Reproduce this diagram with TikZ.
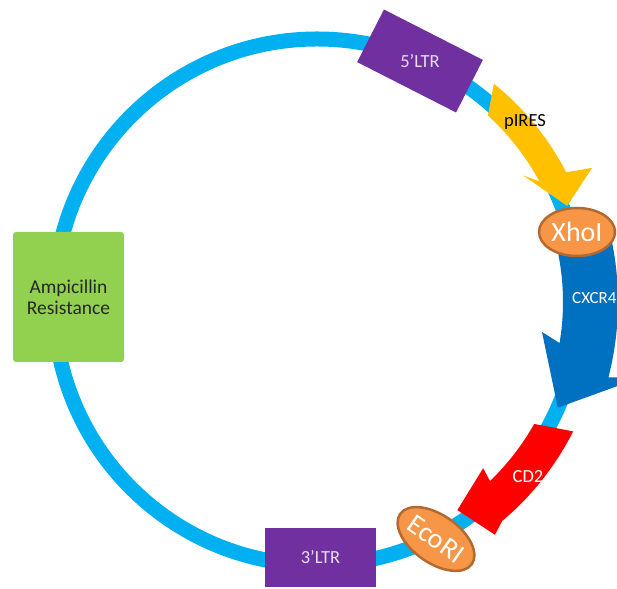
\documentclass[tikz,border=0pt]{standalone}
\usepackage{fontspec}
\setmainfont{Carlito}
\usetikzlibrary{shapes.geometric}

\definecolor{ringblue}{HTML}{00B0F0}
\definecolor{ltrpurple}{HTML}{7030A0}
\definecolor{ltrtext}{RGB}{232,220,242}
\definecolor{ampgreen}{HTML}{92D050}
\definecolor{iresyellow}{HTML}{FFC000}
\definecolor{cxcrblue}{HTML}{0070C0}
\definecolor{sitefill}{HTML}{F79646}
\definecolor{siteedge}{RGB}{178,106,50}

\tikzset{
  ltrbox/.style={fill=ltrpurple, minimum width=111pt, minimum height=59pt, inner sep=0pt},
  sitebox/.style={ellipse, fill=sitefill, draw=siteedge, line width=2.5pt,
                  minimum width=76pt, minimum height=48pt, inner sep=0pt,
                  text=white, font=\fontsize{28}{30}\selectfont},
  lbl/.style={font=\fontsize{18.5}{21}\selectfont, inner sep=0pt}
}

\begin{document}
\begin{tikzpicture}[x=1pt,y=1pt]
  \useasboundingbox (0,0) rectangle (617,588);
  \clip (0,0) rectangle (617,588);

  % plasmid backbone
  \draw[ringblue, line width=15pt] (317,286) circle[radius=263];

  \node[fill=ampgreen, rounded corners=3pt, minimum width=111pt, minimum height=130pt,
        align=center, text=black!85, font=\fontsize{19.5}{21}\selectfont] (amp) at (68.5,291)
        {Ampicillin\\Resistance};

  \node[ltrbox, rotate=-27] (ltr5) at (420,527) {};
  \node[ltrbox, text=ltrtext, font=\fontsize{18.5}{21}\selectfont] (ltr3) at (320.5,31) {3’LTR};

  % curved gene arrows, polar round the centre of the ring
  \begin{scope}[shift={(317,286)}]
    \fill[iresyellow] (51:281) arc[start angle=51, end angle=27.5, radius=281]
      -- (26:306) -- (21:268) -- (31.5:242) -- (28.5:253)
      arc[start angle=28.5, end angle=47.5, radius=253] -- cycle;
    \fill[cxcrblue] (16:301) arc[start angle=16, end angle=-14.5, radius=301]
      -- (-13.2:332) -- (-23.7:263) -- (-7.6:227) -- (-9.6:246)
      arc[start angle=-9.6, end angle=16, radius=246] -- cycle;
    \fill[red] (-26.8:287) arc[start angle=-26.8, end angle=-50, radius=284]
      -- (-52.6:293) -- (-56:251) -- (-45:235) -- (-46:249)
      arc[start angle=-46, end angle=-29.5, radius=252] -- cycle;
  \end{scope}

  % restriction sites
  \node[sitebox] (xho) at (577,356) {XhoI};
  \node[sitebox, rotate=-35] (eco) at (436,49) {EcoRI};

  \node[lbl, text=ltrtext] (ltr5lbl) at (ltr5) {5’LTR};
  \node[lbl] (ireslbl) at (525,466) {pIRES};
  \node[lbl, text=white, anchor=west, font=\fontsize{17}{20}\selectfont] (cxcrlbl) at (572,290) {CXCR4};
  \node[lbl, text=white] (cdlbl) at (528,111) {CD2};
\end{tikzpicture}
\end{document}
